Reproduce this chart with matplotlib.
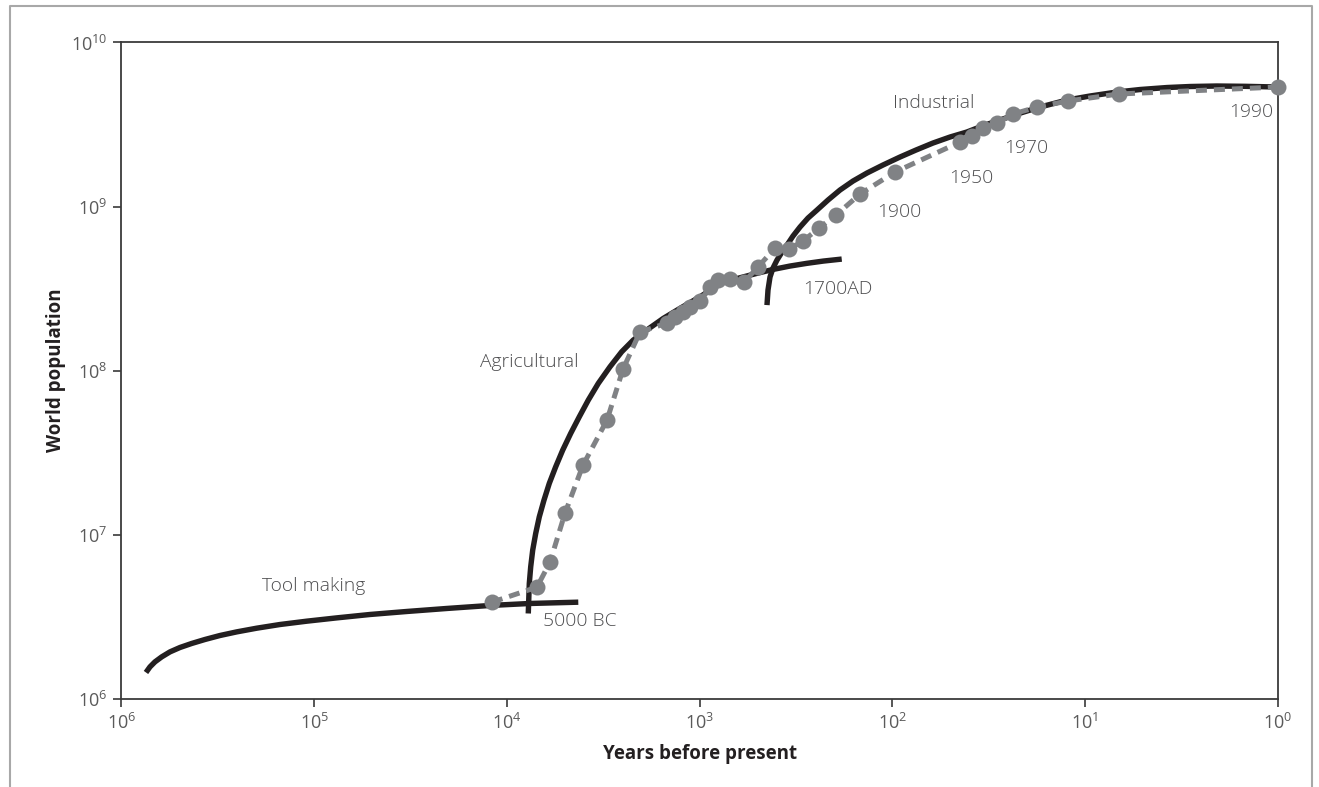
import matplotlib
matplotlib.use("Agg")
import matplotlib.pyplot as plt
from matplotlib.lines import Line2D

plt.rcParams['font.family'] = ['Open Sans', 'DejaVu Sans']

# ---- data (years before present, world population) ----
dot_years = [11950, 6980, 5976, 4994, 4028, 3023, 2497, 2039, 1476, 1342, 1220, 1121,
             995, 883, 803, 695, 588, 498, 406, 344, 291, 240, 196, 147, 96.8,
             44.5, 38.6, 33.8, 28.6, 23.6, 17.7, 12.3, 6.7, 1.0]
dot_pop = [3.876e6, 4.786e6, 6.797e6, 1.352e7, 2.653e7, 4.993e7, 1.021e8, 1.717e8,
           1.949e8, 2.120e8, 2.273e8, 2.439e8, 2.653e8, 3.230e8, 3.562e8, 3.613e8,
           3.464e8, 4.277e8, 5.585e8, 5.507e8, 6.162e8, 7.393e8, 8.875e8, 1.192e9,
           1.623e9, 2.474e9, 2.691e9, 3.010e9, 3.230e9, 3.664e9, 4.043e9, 4.398e9,
           4.853e9, 5.353e9]

tool_years = [746300, 711500, 670300, 618600, 560300, 497000, 432200, 368700, 308200,
              252500, 198800, 150500, 109400, 76420, 51330, 33110, 20530, 12240, 7589, 4261]
tool_pop = [1.445e6, 1.563e6, 1.677e6, 1.798e6, 1.929e6, 2.052e6, 2.171e6, 2.296e6, 2.428e6,
            2.554e6, 2.690e6, 2.833e6, 2.968e6, 3.109e6, 3.261e6, 3.401e6, 3.548e6, 3.701e6,
            3.806e6, 3.876e6]

agri_years = [7745, 7651, 7524, 7346, 7088, 6790, 6420, 6026, 5583, 5133, 4666, 4210,
              3781, 3355, 2917, 2537, 2209, 1881, 1543, 1264, 995, 756, 617, 505, 414,
              340, 278, 228, 183]
agri_pop = [3.307e6, 5.04e6, 6.363e6, 8.045e6, 1.017e7, 1.284e7, 1.623e7, 2.053e7,
            2.590e7, 3.275e7, 4.141e7, 5.228e7, 6.610e7, 8.356e7, 1.055e8, 1.302e8,
            1.535e8, 1.766e8, 2.081e8, 2.395e8, 2.818e8, 3.464e8, 3.680e8, 3.914e8,
            4.141e8, 4.337e8, 4.505e8, 4.652e8, 4.784e8]

ind_years = [447, 441.6, 431.2, 416.0, 396.6, 373.6, 351.9, 327.6, 301.3, 273.8, 245.9,
             215.7, 186.8, 160.0, 135.3, 111.8, 91.2, 75.3, 61.5, 50.2, 41.0, 33.0, 27.6,
             22.5, 17.1, 12.4, 9.42, 6.82, 5.18, 3.75, 2.85, 2.07, 1.48, 1.0]
ind_pop = [2.508e8, 3.097e8, 3.716e8, 4.217e8, 4.718e8, 5.280e8, 5.824e8, 6.610e8,
           7.499e8, 8.509e8, 9.522e8, 1.095e9, 1.261e9, 1.430e9, 1.601e9, 1.791e9,
           2.004e9, 2.211e9, 2.439e9, 2.653e9, 2.847e9, 3.141e9, 3.369e9, 3.664e9,
           4.043e9, 4.460e9, 4.718e9, 4.991e9, 5.168e9, 5.315e9, 5.391e9, 5.429e9,
           5.406e9, 5.353e9]

era_labels = ["Tool making", "Agricultural", "Industrial"]
year_labels = ["5000 BC", "1700AD", "1900", "1950", "1970", "1990"]

x_ticks = [1e6, 1e5, 1e4, 1e3, 1e2, 1e1, 1e0]
y_ticks = [1e6, 1e7, 1e8, 1e9, 1e10]

# ---- figure ----
fig = plt.figure(figsize=(13.19, 7.87), dpi=100)
ax = fig.add_axes([0.0921, 0.1122, 0.9687 - 0.0921, 0.946 - 0.1122])

# outer frame (open at bottom)
frame = Line2D([10/1319, 10/1319, 1312/1319, 1312/1319], [0, 1 - 6/787, 1 - 6/787, 0],
               transform=fig.transFigure, color='#a8a8a8', lw=1.5)
fig.add_artist(frame)

ax.set_xscale('log')
ax.set_yscale('log')
ax.set_xlim(1e6, 1e0)
ax.set_ylim(1e6, 1e10)

black = '#231f20'
gray = '#808285'

for xs, ys in [(tool_years, tool_pop), (agri_years, agri_pop), (ind_years, ind_pop)]:
    ax.plot(xs, ys, color=black, lw=3.9, solid_capstyle='butt',
            solid_joinstyle='round', zorder=2)

ax.plot(dot_years, dot_pop, color=gray, lw=3.6, dashes=(2.2, 1.4), zorder=3)
ax.plot(dot_years, dot_pop, linestyle='none', marker='o', ms=11.5, color=gray,
        markeredgewidth=0, zorder=4, clip_on=False)

ax.set_xticks(x_ticks)
ax.set_yticks(y_ticks)
ax.minorticks_off()
ax.tick_params(axis='both', which='major', direction='out', length=6, width=1.2,
               color='#3a3a3a', labelsize=13, labelcolor='#5a5a5a', pad=4)
for s in ax.spines.values():
    s.set_color('#3a3a3a')
    s.set_linewidth(1.3)

ax.set_xlabel("Years before present", fontsize=13.5, fontweight='bold', color='#231f20', labelpad=8)
ax.set_ylabel("World population", fontsize=13.5, fontweight='bold', color='#231f20', labelpad=4)

tc = '#4d4d4f'
fs = 13.9
def ftext(px, py, s, ha='left'):
    fig.text(px / 1319, 1 - py / 787, s, ha=ha, va='center', fontsize=fs, color=tc,
             fontweight='light')

ftext(262, 586, era_labels[0])
ftext(480, 362, era_labels[1])
ftext(893, 103, era_labels[2])
ftext(543, 621, year_labels[0])
ftext(803, 289, year_labels[1])
ftext(877, 212, year_labels[2])
ftext(949, 178, year_labels[3])
ftext(1004, 148, year_labels[4])
ftext(1229, 112, year_labels[5])

fig.savefig("out.png", dpi=100)
